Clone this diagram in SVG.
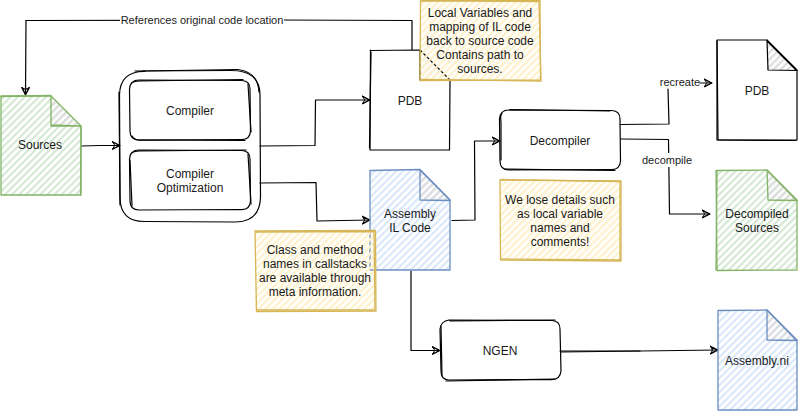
<svg xmlns="http://www.w3.org/2000/svg" width="798" height="411" viewBox="0 0 798 411">
<style>
text{font-family:"Liberation Sans",Arial,sans-serif;font-size:12px;fill:#1a1a1a;text-anchor:middle}
.e{font-size:11px}
path{stroke-linejoin:round;stroke-linecap:round}
.k{fill:none;stroke:#000;stroke-width:1.2}
.c{fill:none;stroke:#000;stroke-width:1.2;marker-end:url(#a)}
.g{fill:none;stroke:#82b366;stroke-width:1.3}
.b{fill:none;stroke:#6c8ebf;stroke-width:1.3}
.y{fill:none;stroke:#d6b656;stroke-width:1.3}
.lab{fill:#fff;stroke:none}
</style>
<defs>
<marker id="a" markerWidth="11" markerHeight="11" refX="8" refY="5" orient="auto" markerUnits="userSpaceOnUse"><path d="M0.500 1L8 5L0.500 9L2.500 5ZM0 1.500L7.500 5L0 8.500" fill="none" stroke="#000" stroke-width="1"/></marker>
<pattern id="hg" width="5" height="5" patternUnits="userSpaceOnUse" patternTransform="rotate(-45)"><rect width="5" height="2.2" fill="#d5e8d4"/></pattern>
<pattern id="hb" width="5" height="5" patternUnits="userSpaceOnUse" patternTransform="rotate(-45)"><rect width="5" height="2.2" fill="#dae8fc"/></pattern>
<pattern id="hy" width="5" height="5" patternUnits="userSpaceOnUse" patternTransform="rotate(-45)"><rect width="5" height="2.4" fill="#fff2cc"/></pattern>
<pattern id="hf" width="5" height="5" patternUnits="userSpaceOnUse" patternTransform="rotate(-45)"><rect width="5" height="2.4" fill="#dedede"/></pattern>
</defs>
<g id="connectors">
<path class="k" d="M412 50L412 20.500L275 20L26 20.500"/>
<path class="c" d="M26 20.500L25.500 95"/>
<path class="c" d="M81 146L100 145.500L120 145.500"/>
<path class="c" d="M260 146L315 145.500L315.500 100L370 100"/>
<path class="c" d="M260 183L316 182.500L317 221L370 220"/>
<path class="c" d="M452 220.500L475 220L474.500 141L500 141"/>
<path class="k" d="M620 124.500L669 124L668 89"/>
<path class="c" d="M700 83L712 83"/>
<path class="c" d="M621 139L668.500 139.500L669.500 214L710 214"/>
<path class="c" d="M411 271L411 350.500L440 350.500"/>
<path class="c" d="M560 351L640 351L718 350"/>
<path class="k" d="M561 352L640 351"/>
<rect class="lab" x="120" y="14" width="164" height="13"/>
<text class="e" x="202" y="24">References original code location</text>
<text class="e" x="680" y="86">recreate</text>
<rect class="lab" x="642" y="153" width="51" height="14"/>
<text class="e" x="667" y="164">decompile</text>
</g>
<g id="sources">
<path fill="url(#hg)" d="M1 96H51L81 126V195H1Z"/>
<path fill="url(#hf)" d="M51 96L81 126H51Z"/>
<path class="g" d="M1 96H51L81 126V195H1Z"/>
<path class="g" d="M51 96V126H81M51 97V125L80 126M1 96.500L50 95.500M81 127L80.500 195"/>
<text x="40" y="149">Sources</text>
</g>
<g id="compiler-group">
<path class="k" d="M135 71L230 70.500Q260 70 260 95L260.500 197Q260 222 235 222L145 221.500Q120 222 120 197L119.500 95Q120 71 145 71.500Z"/>
<path class="k" d="M142 71L238 69.500Q258 72 259 92M119 92L120 205"/>
</g>
<g id="compiler">
<path class="k" d="M139 80L242 80.500Q250 81 250 89L250.500 131Q250 140 241 139.500L139 140Q130 140 130 131L129.500 89Q130 80 139 80Z"/>
<path class="k" d="M131 84Q133 81 140 81L243 79.500M248 84L251 132M132 136Q135 141 142 140L245 140.500"/>
<text x="190" y="115">Compiler</text>
</g>
<g id="compiler-optimization">
<path class="k" d="M139 150L242 150.500Q250 151 250 159L250.500 201Q250 210 241 209.500L139 210Q130 210 130 201L129.500 159Q130 150 139 150Z"/>
<path class="k" d="M131 154Q133 151 140 151L246 150M248 154L251 204M130 160L132 206"/>
<text x="190" y="178">Compiler</text>
<text x="190" y="192">Optimization</text>
</g>
<g id="pdb">
<path fill="#fff" d="M370 50H420L450 80V150H370Z"/>
<path fill="url(#hf)" d="M420 50L450 80H420Z"/>
<path class="k" d="M370 50.500L420 50L450 80L449.500 150L370 150L370.500 50"/>
<path class="k" d="M420 50L420 80L450 80M371 52L369.500 148"/>
<text x="410" y="105">PDB</text>
</g>
<g id="assembly-il">
<path fill="url(#hb)" d="M370 170H420L450 200V270H370Z"/>
<path fill="url(#hf)" d="M420 170L450 200H420Z"/>
<path class="b" d="M370 170.500L420 169.500L450 200L450 270L370 270Z"/>
<path class="b" d="M420 170L420 200L450 200.500M421 171L449 199"/>
<text x="410" y="218">Assembly</text>
<text x="410" y="232">IL Code</text>
</g>
<g id="note-pdb">
<path fill="url(#hy)" d="M420 0H540V80H420Z"/>
<path class="y" d="M420.500 1L540 0.500L540.500 80L420 80.500Z"/>
<path class="y" d="M421 0.500L539 1.500L541 81L421 79.500"/>
<text x="480" y="17">Local Variables and</text>
<text x="480" y="31">mapping of IL code</text>
<text x="480" y="45">back to source code</text>
<text x="480" y="59">Contains path to</text>
<text x="480" y="73">sources.</text>
</g>
<g id="note-callstacks">
<path fill="url(#hy)" d="M255 231H375V311H255Z"/>
<path class="y" d="M255 231L375.500 230.500L376 311L256.500 311.500Z"/>
<path class="y" d="M256 232L374 231.500L375 310L257 310"/>
<text x="315" y="254">Class and method</text>
<text x="315" y="268">names in callstacks</text>
<text x="315" y="282">are available through</text>
<text x="315" y="296">meta information.</text>
</g>
<g id="decompiler">
<path class="k" d="M509 110L612 110.500Q620 111 620 119L620.500 161Q620 170 611 169.500L509 170Q500 170 500 161L499.500 119Q500 110 509 110Z"/>
<path class="k" d="M510 109.500L610 111M502 113Q500 115 501 122L501 160M505 169L615 170.500"/>
<text x="560" y="145">Decompiler</text>
</g>
<g id="note-lose">
<path fill="url(#hy)" d="M500 180H621V260H500Z"/>
<path class="y" d="M500 180L621 181L621 261L500.500 260Z"/>
<path class="y" d="M501 179.500L620 181.500L620 260L501 259"/>
<text x="560" y="204">We lose details such</text>
<text x="560" y="218">as local variable</text>
<text x="560" y="232">names and</text>
<text x="560" y="246">comments!</text>
</g>
<g id="pdb-recreated">
<path fill="url(#hf)" d="M767 40L797 70H767Z"/>
<path class="k" d="M717 40L767 40L797 70L797 140L717 140Z"/>
<path class="k" d="M767 40L768 70L797 70.500M767 41L796 70M717 41L718 139M718 140L796 140.500"/>
<text x="757" y="95">PDB</text>
</g>
<g id="decompiled-sources">
<path fill="url(#hg)" d="M716 170H767L797 200V270H716Z"/>
<path fill="url(#hf)" d="M767 170L797 200H767Z"/>
<path class="g" d="M716 170.500L767 170L797 200L797 270L717 270.500Z"/>
<path class="g" d="M767 170L768 200L797 200.500M768 171L796 200M717 171L716 270"/>
<text x="757" y="218">Decompiled</text>
<text x="757" y="232">Sources</text>
</g>
<g id="ngen">
<path class="k" d="M449 320L552 320.500Q560 321 560 329L561 371Q560 380 551 379.500L449 380Q441 380 441 371L440 329Q441 321 449 320Z"/>
<path class="k" d="M450 321L555 320M441 326L442 376M446 381L555 379"/>
<text x="500" y="355">NGEN</text>
</g>
<g id="assembly-ni">
<path fill="url(#hb)" d="M718 310H767L797 340V410H718Z"/>
<path fill="url(#hf)" d="M767 310L797 340H767Z"/>
<path class="b" d="M718 310.500L767 310L797 340L797 410L718 410Z"/>
<path class="b" d="M767 310L767 340L797 340.500M768 311L796 340"/>
<text x="757" y="365">Assembly.ni</text>
</g>
</svg>
